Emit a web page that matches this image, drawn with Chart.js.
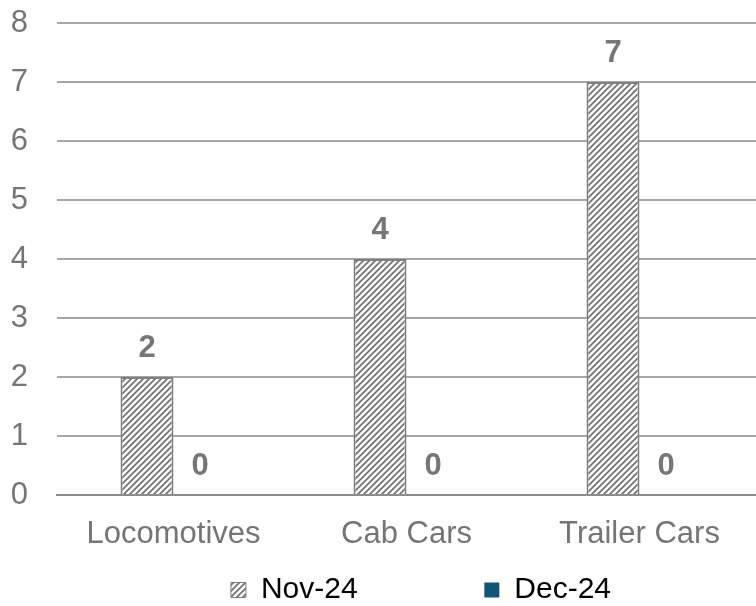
<!DOCTYPE html>
<html>
<head>
<meta charset="utf-8">
<script src="https://cdn.jsdelivr.net/npm/chart.js@4.4.0/dist/chart.umd.min.js"></script>
<style>
  html, body { margin: 0; padding: 0; background: #fff; }
  #wrap { width: 756px; height: 606px; }
</style>
</head>
<body>
<div id="wrap"><canvas id="chart" width="756" height="606"></canvas></div>
<script>
const categories = ['Locomotives', 'Cab Cars', 'Trailer Cars'];
const nov24 = [2, 4, 7];
const dec24 = [0, 0, 0];
const seriesNames = ['Nov-24', 'Dec-24'];
const yTicks = [0, 1, 2, 3, 4, 5, 6, 7, 8];

// diagonal hatch fill for the Nov-24 bars
function makeHatch() {
  const c = document.createElement('canvas');
  c.width = 6; c.height = 6;
  const g = c.getContext('2d');
  g.fillStyle = '#ffffff';
  g.fillRect(0, 0, 6, 6);
  g.strokeStyle = '#707070';
  g.lineWidth = 1.7;
  g.beginPath();
  g.moveTo(-1, 7); g.lineTo(7, -1);
  g.moveTo(-4, 4); g.lineTo(4, -4);
  g.moveTo(2, 10); g.lineTo(10, 2);
  g.stroke();
  return g.createPattern(c, 'repeat');
}
const hatch = makeHatch();

// value labels above bars
const valueLabels = {
  id: 'valueLabels',
  afterDatasetsDraw(chart) {
    const ctx = chart.ctx;
    ctx.save();
    ctx.font = 'bold 31px "Liberation Sans", Arial, sans-serif';
    ctx.fillStyle = '#767676';
    ctx.textAlign = 'center';
    ctx.textBaseline = 'bottom';
    chart.data.datasets.forEach((ds, i) => {
      chart.getDatasetMeta(i).data.forEach((bar, j) => {
        ctx.fillText(String(ds.data[j]), bar.x, bar.y - 13);
      });
    });
    ctx.restore();
  }
};

// nudge the legend to where it sits in the original
const legendShift = {
  id: 'legendShift',
  afterLayout(chart) {
    const lg = chart.legend;
    lg.left += 43; lg.right += 43;
    lg.top += 9; lg.bottom += 9;
  }
};

new Chart(document.getElementById('chart'), {
  type: 'bar',
  data: {
    labels: categories,
    datasets: [
      {
        label: seriesNames[0],
        data: nov24,
        backgroundColor: hatch,
        borderColor: '#7f7f7f',
        borderWidth: 2,
        categoryPercentage: 0.455,
        barPercentage: 1
      },
      {
        label: seriesNames[1],
        data: dec24,
        backgroundColor: '#0f5578',
        borderWidth: 0,
        categoryPercentage: 0.455,
        barPercentage: 1
      }
    ]
  },
  options: {
    responsive: false,
    animation: false,
    devicePixelRatio: 1,
    layout: { padding: { top: 23, right: 0, bottom: 0, left: 0 } },
    plugins: {
      tooltip: { enabled: false },
      legend: {
        position: 'bottom',
        labels: {
          boxWidth: 15,
          boxHeight: 15,
          padding: 10,
          color: '#000000',
          font: { family: '"Liberation Sans", Arial, sans-serif', size: 30 },
          generateLabels(chart) {
            return chart.data.datasets.map((ds, i) => ({
              text: i === 0 ? ds.label + '\u00a0'.repeat(14) : ds.label,
              fillStyle: ds.backgroundColor,
              strokeStyle: i === 0 ? '#7f7f7f' : ds.backgroundColor,
              lineWidth: i === 0 ? 1 : 0,
              datasetIndex: i,
              hidden: false
            }));
          }
        }
      }
    },
    scales: {
      x: {
        grid: { display: false, drawTicks: false },
        border: { display: true, color: '#8c8c8c', width: 2 },
        ticks: {
          color: '#757575',
          padding: 21,
          font: { family: '"Liberation Sans", Arial, sans-serif', size: 31 }
        },
        afterFit(scale) {
          scale.height = 61;
          scale.paddingLeft = 0; scale.paddingRight = 0;
        }
      },
      y: {
        min: 0,
        max: 8,
        afterBuildTicks(scale) { scale.ticks = yTicks.map(v => ({ value: v })); },
        grid: { color: '#a6a6a6', lineWidth: 2, drawTicks: false },
        border: { display: false },
        ticks: {
          color: '#757575',
          padding: 29,
          font: { family: '"Liberation Sans", Arial, sans-serif', size: 31 }
        },
        afterFit(scale) {
          scale.width = 57;
          scale.paddingTop = 0; scale.paddingBottom = 0;
        }
      }
    }
  },
  plugins: [valueLabels, legendShift]
});
</script>
</body>
</html>
